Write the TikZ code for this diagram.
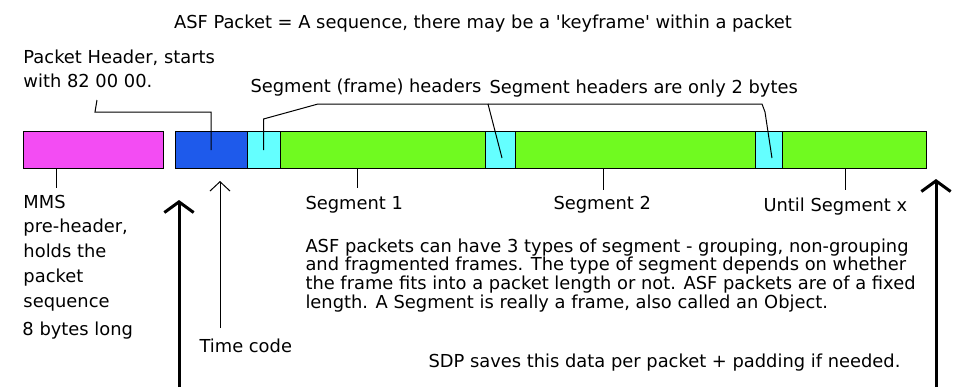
\documentclass[tikz,border=0pt]{standalone}
\usepackage{fontspec}
\setmainfont{DejaVu Sans}
\usepackage{tikz}
\usetikzlibrary{positioning,arrows.meta}
\definecolor{mmspink}{RGB}{243,76,243}
\definecolor{hdrblue}{RGB}{30,90,235}
\definecolor{segcyan}{RGB}{100,255,255}
\definecolor{seggreen}{RGB}{112,250,32}
\tikzset{every picture/.style={line width=0.75pt}}

\begin{document}
\begin{tikzpicture}[x=0.75pt,y=0.75pt,yscale=-1,xscale=1,
  block/.style={draw, inner sep=0pt, outer sep=0pt, minimum height=28pt},
  lbl/.style={anchor=base west, inner sep=0pt, align=left, font=\fontsize{13.4}{18.5}\selectfont},
  thickarrow/.style={line width=2.25pt, -{Straight Barb[length=8pt,width=22pt]}},
  thinarrow/.style={-{Straight Barb[length=7pt,width=15pt]}}]
\useasboundingbox (0,0) rectangle (954,387);

%Shape: packet blocks
\node[block, fill=mmspink, minimum width=105pt] (mms) at (93,150) {};
\node[block, fill=hdrblue, minimum width=54pt] (hdr) at (211,150) {};
\node[block, fill=segcyan, minimum width=24.75pt, right=0pt of hdr] (seghdrA) {};
\node[block, fill=seggreen, minimum width=153.75pt, right=0pt of seghdrA] (segA) {};
\node[block, fill=segcyan, minimum width=22.5pt, right=0pt of segA] (seghdrB) {};
\node[block, fill=seggreen, minimum width=180pt, right=0pt of seghdrB] (segB) {};
\node[block, fill=segcyan, minimum width=20.25pt, right=0pt of segB] (seghdrC) {};
\node[block, fill=seggreen, minimum width=108pt, right=0pt of seghdrC] (segC) {};

%Coordinates: leader ends
\coordinate (phtop) at (97,100);
\coordinate (sfbend) at (318,104);
\coordinate (shjoin) at (488,104);
\coordinate (shend) at (762,104);
\coordinate (mmsfoot) at (56,188);
\coordinate (segAfoot) at (357,188);
\coordinate (segBfoot) at (603,190);
\coordinate (segCfoot) at (845,190);
\coordinate (pktstart) at (179,200);
\coordinate (pktstartfoot) at (179,387);
\coordinate (pktend) at (936,179);
\coordinate (pktendfoot) at (936,387);
\coordinate (timetip) at (220,181);
\coordinate (timefoot) at (220,328);

%Straight Lines: leaders above
\draw (phtop) -- ++(-2,12) -| (hdr.center);
\draw (seghdrA.center) -- ++(0,-31) -- (sfbend) -- (shjoin) -- ([xshift=1.5pt,yshift=6pt]seghdrB.center);
\draw (shjoin) -- (shend) -- ++(3,8) -- ([xshift=2.6pt,yshift=6pt]seghdrC.center);
%Straight Lines: leaders below
\draw (mmsfoot |- mms.south) -- (mmsfoot);
\draw (segAfoot |- segA.south) -- (segAfoot);
\draw (segBfoot |- segB.south) -- (segBfoot);
\draw (segCfoot |- segC.south) -- (segCfoot);

%Arrows
\draw[thickarrow] (pktstartfoot) -- (pktstart);
\draw[thickarrow] (pktendfoot) -- (pktend);
\draw[thinarrow] (timefoot) -- (timetip);

% Text Node
\node[lbl, anchor=base] (title) at (483,28) {ASF Packet = A sequence, there may be a \textquotesingle keyframe\textquotesingle{} within a packet};
% Text Node
\node[lbl, font=\fontsize{13.4}{18}\selectfont] (phlbl) at (23,87) {Packet Header, starts\\with 82 00 00.};
% Text Node
\node[lbl] (sflbl) at (250,92) {Segment (frame) headers};
% Text Node
\node[lbl] (shlbl) at (489,93) {Segment headers are only 2 bytes};
% Text Node
\node[lbl, font=\fontsize{13.4}{18.56}\selectfont] (mmslbl) at (23,307) {MMS\\pre-header,\\holds the\\packet\\sequence};
% Text Node
\node[lbl] (bytelbl) at (22,335) {8 bytes long};
% Text Node
\node[lbl] (timelbl) at (199,352) {Time code};
% Text Node
\node[lbl] (segAlbl) at (305,209) {Segment 1};
% Text Node
\node[lbl] (segBlbl) at (553,209) {Segment 2};
% Text Node
\node[lbl] (segClbl) at (763,211) {Until Segment x};
% Text Node
\node[lbl, font=\fontsize{13.4}{14}\selectfont] (asflbl) at (305,308) {ASF packets can have 3 types of segment - grouping, non-grouping\\and fragmented frames. The type of segment depends on whether\\the frame fits into a packet length or not. ASF packets are of a fixed\\length. A Segment is really a frame, also called an Object.};
% Text Node
\node[lbl] (sdplbl) at (428,367) {SDP saves this data per packet + padding if needed.};

\end{tikzpicture}
\end{document}
